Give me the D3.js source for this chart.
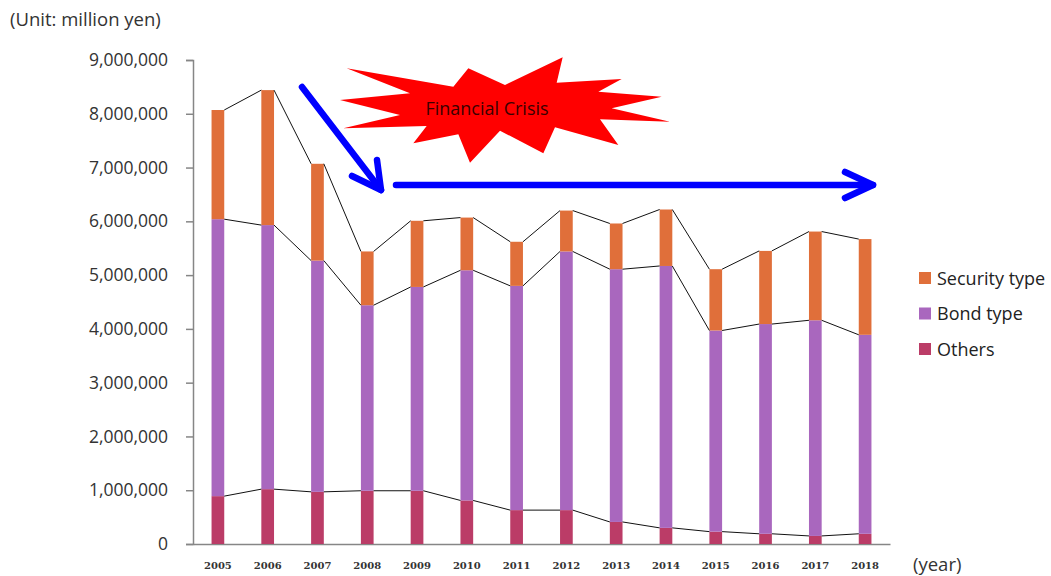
<!DOCTYPE html>
<html>
<head>
<meta charset="utf-8">
<script src="https://cdn.jsdelivr.net/npm/d3@7"></script>
<style>
  body { margin: 0; background: #fff; }
  svg { display: block; }
</style>
</head>
<body>
<svg id="chart" width="1051" height="576"></svg>
<script>
// Data (million yen)
const years = ['2005', '2006', '2007', '2008', '2009', '2010', '2011', '2012', '2013', '2014', '2015', '2016', '2017', '2018'];
const others = [890000, 1020000, 970000, 990000, 990000, 810000, 630000, 630000, 410000, 300000, 230000, 190000, 150000, 190000];
const bondType = [5150000, 4910000, 4300000, 3450000, 3790000, 4280000, 4170000, 4810000, 4700000, 4870000, 3740000, 3900000, 4010000, 3700000];
const securityType = [2030000, 2510000, 1800000, 1000000, 1230000, 980000, 820000, 760000, 850000, 1050000, 1140000, 1360000, 1650000, 1780000];
const seriesNames = ['Others', 'Bond type', 'Security type'];
const yTicks = [0, 1000000, 2000000, 3000000, 4000000, 5000000, 6000000, 7000000, 8000000, 9000000];

const colors = { 'Others': '#bb3c67', 'Bond type': '#a967be', 'Security type': '#e06f3a' };

const margin = { top: 60, left: 193, right: 161, bottom: 32 };
const W = 1051, H = 576;
const width = W - margin.left - margin.right;
const height = H - margin.top - margin.bottom;

const svg = d3.select('#chart');
const g = svg.append('g').attr('transform', `translate(${margin.left}, ${margin.top})`);

const x = d3.scaleBand().domain(years).range([0, width])
  .paddingInner(0.745).paddingOuter(0.3725);
const y = d3.scaleLinear().domain([0, 9000000]).range([height, 0]);

const table = years.map((yr, i) => ({
  year: yr,
  'Others': others[i],
  'Bond type': bondType[i],
  'Security type': securityType[i],
}));
const stacked = d3.stack().keys(seriesNames)(table);

// axes
const yAxis = d3.axisLeft(y).tickValues(yTicks).tickFormat(d3.format(',')).tickSize(7).tickPadding(18);
const ya = g.append('g').attr('class', 'axis--y').call(yAxis);
ya.select('.domain').attr('stroke', '#868686').attr('stroke-width', 1.5);
ya.selectAll('.tick line').attr('stroke', '#868686').attr('stroke-width', 1.5);
ya.selectAll('.tick text')
  .style('font-family', '"Open Sans", sans-serif')
  .style('font-size', '17.5px')
  .attr('fill', '#333');

const xAxis = d3.axisBottom(x).tickSize(0).tickPadding(18);
const xa = g.append('g').attr('class', 'axis--x')
  .attr('transform', `translate(0, ${height})`).call(xAxis);
xa.select('.domain').attr('stroke', '#868686').attr('stroke-width', 1.5);
xa.selectAll('.tick text')
  .style('font-family', '"DejaVu Serif", serif')
  .style('font-weight', 'bold')
  .style('font-size', '10px')
  .attr('fill', '#333');

// bars
const layers = g.append('g').attr('class', 'bars')
  .selectAll('g').data(stacked).join('g')
  .attr('fill', d => colors[d.key]);
layers.selectAll('rect').data(d => d).join('rect')
  .attr('x', d => x(d.data.year))
  .attr('y', d => y(d[1]))
  .attr('width', x.bandwidth())
  .attr('height', d => y(d[0]) - y(d[1]));

// series lines (right edge of one bar to left edge of next)
const seriesLines = g.append('g').attr('class', 'series-lines');
stacked.forEach(layer => {
  const segs = d3.pairs(layer);
  seriesLines.selectAll(null).data(segs).join('line')
    .attr('x1', d => x(d[0].data.year) + x.bandwidth())
    .attr('y1', d => y(d[0][1]))
    .attr('x2', d => x(d[1].data.year))
    .attr('y2', d => y(d[1][1]))
    .attr('stroke', '#111')
    .attr('stroke-width', 1);
});

// unit + year labels
svg.append('text').attr('x', 10).attr('y', 26)
  .style('font-family', '"Open Sans", sans-serif').style('font-size', '18.5px')
  .attr('fill', '#333').text('(Unit: million yen)');
svg.append('text').attr('x', 913).attr('y', 571)
  .style('font-family', '"Open Sans", sans-serif').style('font-size', '18.5px')
  .attr('fill', '#333').text('(year)');

// legend
const legendItems = ['Security type', 'Bond type', 'Others'];
const legend = svg.append('g').attr('transform', 'translate(919, 272)');
const li = legend.selectAll('g').data(legendItems).join('g')
  .attr('transform', (d, i) => `translate(0, ${i * 35.5})`);
li.append('rect').attr('width', 12).attr('height', 12).attr('fill', d => colors[d]);
li.append('text').attr('x', 18).attr('y', 12.5)
  .style('font-family', '"Open Sans", sans-serif').style('font-size', '18px')
  .attr('fill', '#222').text(d => d);

// Financial crisis starburst
const burst = [
  [170, 85], [490, 140], [535, 85], [645, 135], [818, 52], [800, 128], [995, 117],
  [925, 155], [1115, 170], [965, 205], [1140, 245], [930, 238], [985, 315],
  [795, 262], [760, 340], [630, 272], [540, 368], [505, 283], [370, 310],
  [410, 258], [160, 265], [330, 225], [150, 180], [360, 160]
].map(p => [290 + p[0] / 3, 40 + p[1] / 3]);
svg.append('path')
  .attr('d', d3.line()(burst) + 'Z')
  .attr('fill', '#ff0000');
svg.append('text').attr('x', 487).attr('y', 114.5)
  .attr('text-anchor', 'middle')
  .style('font-family', '"Open Sans", sans-serif').style('font-size', '18px')
  .attr('fill', '#3a0000').text('Financial Crisis');

// blue arrows
const arrows = svg.append('g').attr('stroke', '#0000ff').attr('stroke-width', 6.5)
  .attr('stroke-linecap', 'round').attr('stroke-linejoin', 'round').attr('fill', 'none');
arrows.append('path').attr('d', 'M302,87 L381,190');
arrows.append('path').attr('d', 'M352,176 L381,190 L377,160');
arrows.append('path').attr('d', 'M396,185 L873,185');
arrows.append('path').attr('d', 'M845,172 L873,185 L845,198');
</script>
</body>
</html>
